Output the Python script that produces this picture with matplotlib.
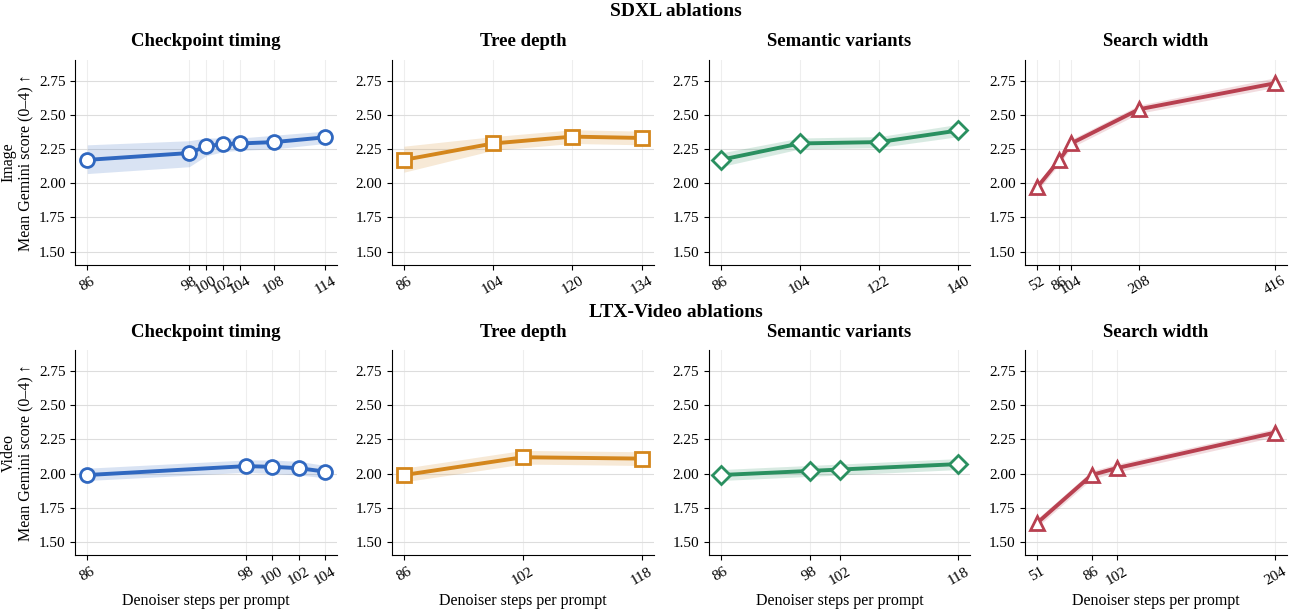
import matplotlib
matplotlib.use("Agg")
import matplotlib.pyplot as plt
import numpy as np

plt.rcParams['font.family'] = ['Liberation Serif', 'DejaVu Serif']

titles = ["Checkpoint timing", "Tree depth", "Semantic variants", "Search width"]
colors = ["#3068c0", "#d4861c", "#2a9060", "#b84050"]
markers = ["o", "s", "D", "^"]

# SDXL (image)
img_x = [[86, 98, 100, 102, 104, 108, 114], [86, 104, 120, 134], [86, 104, 122, 140], [52, 86, 104, 208, 416]]
img_y = [[2.17, 2.22, 2.27, 2.285, 2.29, 2.30, 2.335], [2.17, 2.29, 2.34, 2.33], [2.17, 2.29, 2.30, 2.385], [1.97, 2.17, 2.29, 2.54, 2.73]]
img_lo = [[2.07, 2.12, 2.20, 2.23, 2.24, 2.25, 2.29], [2.08, 2.24, 2.29, 2.28], [2.12, 2.25, 2.26, 2.34], [1.94, 2.14, 2.26, 2.51, 2.70]]
img_hi = [[2.28, 2.31, 2.33, 2.33, 2.33, 2.35, 2.38], [2.27, 2.34, 2.39, 2.38], [2.22, 2.33, 2.34, 2.43], [2.00, 2.20, 2.32, 2.57, 2.77]]
# LTX-Video
vid_x = [[86, 98, 100, 102, 104], [86, 102, 118], [86, 98, 102, 118], [51, 86, 102, 204]]
vid_y = [[1.99, 2.055, 2.05, 2.04, 2.015], [1.99, 2.12, 2.11], [1.99, 2.02, 2.03, 2.07], [1.64, 1.99, 2.04, 2.30]]
vid_lo = [[1.95, 2.01, 2.00, 1.99, 1.97], [1.94, 2.07, 2.06], [1.95, 1.98, 1.99, 2.03], [1.61, 1.96, 2.01, 2.27]]
vid_hi = [[2.04, 2.10, 2.10, 2.09, 2.06], [2.04, 2.17, 2.16], [2.03, 2.06, 2.07, 2.11], [1.67, 2.02, 2.07, 2.33]]

fig, axes = plt.subplots(2, 4, figsize=(13, 6.12), dpi=100)
fig.subplots_adjust(left=0.058, right=0.99, top=0.902, bottom=0.093, hspace=0.42, wspace=0.21)

rows = [(img_x, img_y, img_lo, img_hi, "Image"), (vid_x, vid_y, vid_lo, vid_hi, "Video")]
for r, (X, Y, LO, HI, lab) in enumerate(rows):
    for c in range(4):
        ax = axes[r, c]
        col = colors[c]
        ax.fill_between(X[c], LO[c], HI[c], color=col, alpha=0.18, lw=0)
        ax.plot(X[c], Y[c], color=col, lw=2.8, marker=markers[c], ms=10 if c != 2 else 9,
                mfc="white", mec=col, mew=2, zorder=3)
        ax.set_ylim(1.405, 2.90)
        ax.set_yticks([1.5, 1.75, 2.0, 2.25, 2.5, 2.75])
        ax.set_xticks(X[c])
        ax.set_xticklabels([str(v) for v in X[c]], rotation=30)
        ax.grid(True, color="#dddddd", lw=0.8)
        ax.grid(True, axis="x", color="#eeeeee", lw=0.8)
        ax.set_axisbelow(True)
        for s in ["top", "right"]:
            ax.spines[s].set_visible(False)
        ax.tick_params(labelsize=11)
        ax.set_title(titles[c], fontsize=13.5, fontweight="bold", pad=10)
        if c == 0:
            ax.set_ylabel(f"{lab}\nMean Gemini score (0–4) ↑", fontsize=11.5, labelpad=3)
        if r == 1:
            ax.set_xlabel("Denoiser steps per prompt", fontsize=11.5)

fig.text(0.52, 0.995, "SDXL ablations", ha="center", va="top", fontsize=14, fontweight="bold")
fig.text(0.52, 0.503, "LTX-Video ablations", ha="center", va="top", fontsize=14, fontweight="bold")
fig.savefig("out.png", dpi=100)
